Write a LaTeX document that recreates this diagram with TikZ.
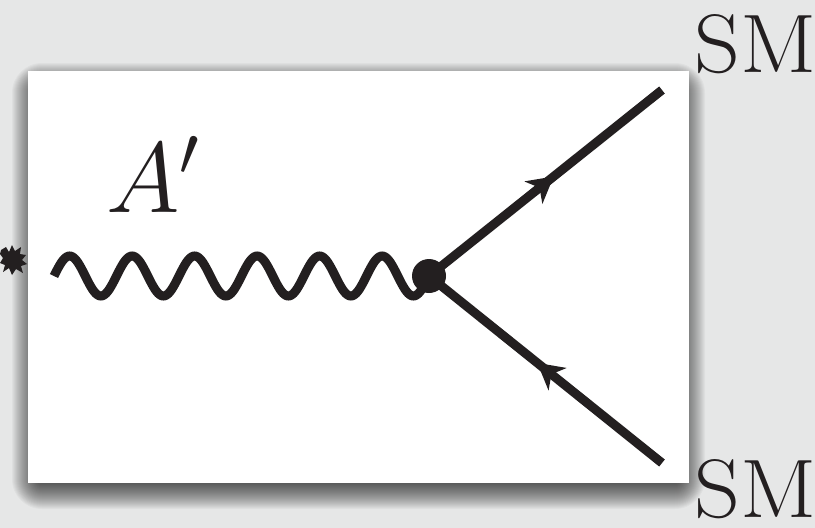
\RequirePackage{fix-cm}
\documentclass[tikz,border=0pt]{standalone}
\usetikzlibrary{decorations.markings,arrows.meta}
\definecolor{ink}{HTML}{231F20}
\definecolor{bgc}{HTML}{E6E7E7}
\begin{document}
\begin{tikzpicture}[x=1pt,y=-1pt,
  wavy/.style={draw=ink,line width=9pt},
  fermion/.style={draw=ink,line width=9pt,postaction={decorate},
    decoration={markings,mark=at position 0.535 with {\arrow[ink]{Stealth[length=26pt,width=29pt,inset=8pt,line width=0pt]}}}},
  vdot/.style={circle,fill=ink,minimum size=34pt,inner sep=0pt},
  smtext/.style={anchor=base west,inner sep=0pt,text depth=0pt,font=\fontsize{83}{83}\selectfont,text=ink},
  alabel/.style={anchor=base west,inner sep=0pt,font=\fontsize{100}{100}\selectfont,text=ink}]
\path[use as bounding box] (0,0) rectangle (815,528);
\fill[bgc] (0,0) rectangle (815,528);
% soft shadow
\foreach \i in {1,...,30}
  \fill[black,opacity=0.03,rounded corners=\i pt] (28-\i+14,79-\i+14) rectangle (689+\i-14,493+\i-14);
\fill[white] (28,71) rectangle (689,483);
% smudge at the left edge
\fill[ink] (1,250) -- (6,247) -- (9,252) -- (12,245) -- (15,251) -- (21,247) -- (20,254)
  -- (26,255) -- (22,260) -- (27,264) -- (21,266) -- (23,273) -- (16,269) -- (12,275)
  -- (9,268) -- (3,272) -- (5,265) -- (0,263) -- (3,258) -- (0,254) -- cycle;
% diagram
\coordinate (w0) at (54,276);
\coordinate (vc) at (429,276);
\coordinate (t) at (662,90);
\coordinate (b) at (662,463);
\draw[wavy] plot[domain=0:2160,samples=289,smooth] ({54+\x/360*62.5},{276-20*sin(\x)});
\path[fermion] (vc) -- (t);
\path[fermion] (b) -- (vc);
\node[vdot] (v) at (vc) {};
\node[alabel] (al) at (106,212) {$A'$};
\node[smtext] (sm1) at (694,72) {\scalebox{1.08}[1]{SM}};
\node[smtext] (sm2) at (694,517) {\scalebox{1.08}[1]{SM}};
\end{tikzpicture}
\end{document}
